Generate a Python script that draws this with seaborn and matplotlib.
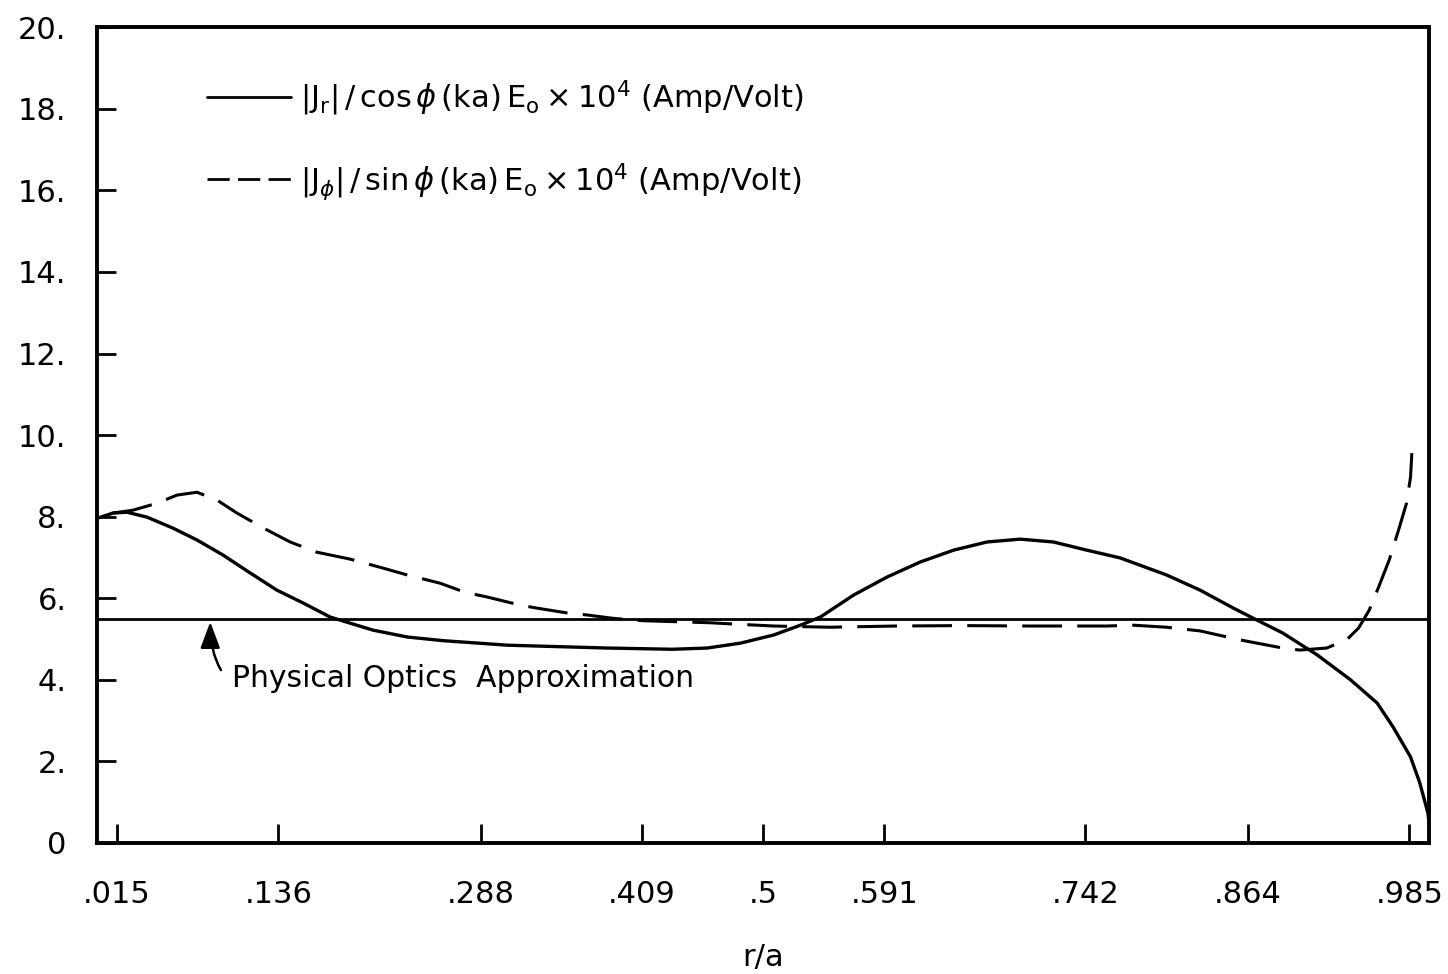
import numpy as np
import pandas as pd
import matplotlib
matplotlib.use("Agg")
import matplotlib.pyplot as plt
from matplotlib.lines import Line2D
import seaborn as sns

# Current components on the disk versus normalized radius r/a
r_jr = [0.0, 0.012, 0.0225, 0.0375, 0.057, 0.075, 0.0946, 0.115, 0.135, 0.155,
        0.175, 0.19, 0.207, 0.233, 0.26, 0.308, 0.383, 0.432, 0.458, 0.483,
        0.508, 0.528, 0.543, 0.568, 0.593, 0.618, 0.643, 0.668, 0.693, 0.718,
        0.743, 0.768, 0.803, 0.828, 0.853, 0.868, 0.89, 0.916, 0.941, 0.961,
        0.973, 0.986, 0.993, 0.999, 1.0]
jr_vals = [7.96, 8.09, 8.11, 7.99, 7.72, 7.43, 7.06, 6.62, 6.20, 5.88,
           5.54, 5.39, 5.22, 5.05, 4.96, 4.85, 4.78, 4.75, 4.78, 4.90,
           5.10, 5.34, 5.54, 6.08, 6.52, 6.89, 7.18, 7.38, 7.45, 7.38,
           7.18, 6.99, 6.57, 6.20, 5.76, 5.51, 5.15, 4.61, 4.00, 3.43,
           2.84, 2.11, 1.47, 0.74, 0.49]

r_jphi = [0.012, 0.027, 0.045, 0.06, 0.075, 0.09, 0.105, 0.125, 0.145, 0.165,
          0.19, 0.2125, 0.233, 0.2575, 0.276, 0.293, 0.318, 0.33, 0.353, 0.368,
          0.387, 0.41, 0.46, 0.477, 0.508, 0.55, 0.60, 0.65, 0.70, 0.758,
          0.778, 0.803, 0.828, 0.858, 0.89, 0.903, 0.923, 0.938, 0.947, 0.955,
          0.962, 0.97, 0.977, 0.983, 0.986, 0.987]
jphi_vals = [8.09, 8.16, 8.33, 8.53, 8.60, 8.41, 8.09, 7.72, 7.38, 7.13,
             6.96, 6.76, 6.57, 6.37, 6.15, 6.03, 5.83, 5.76, 5.64, 5.59,
             5.51, 5.45, 5.40, 5.37, 5.32, 5.29, 5.32, 5.33, 5.32, 5.32,
             5.34, 5.29, 5.20, 4.98, 4.78, 4.73, 4.78, 4.98, 5.27, 5.71,
             6.27, 6.94, 7.67, 8.33, 8.97, 9.56]

physical_optics = 5.5

x_ticks = [0.015, 0.136, 0.288, 0.409, 0.5, 0.591, 0.742, 0.864, 0.985]
x_ticklabels = [".015", ".136", ".288", ".409", ".5", ".591", ".742", ".864", ".985"]
y_ticks = [0, 2, 4, 6, 8, 10, 12, 14, 16, 18, 20]
y_ticklabels = ["0", "2.", "4.", "6.", "8.", "10.", "12.", "14.", "16.", "18.", "20."]

label_jr = r"$|\mathrm{J_r}|\,/\,\mathrm{cos}\,\phi\,(\mathrm{ka})\,\mathrm{E_o}\times10^4$ (Amp/Volt)"
label_jphi = r"$|\mathrm{J}_\phi|\,/\,\mathrm{sin}\,\phi\,(\mathrm{ka})\,\mathrm{E_o}\times10^4$ (Amp/Volt)"

sns.set_theme(style="ticks")
plt.rcParams["font.family"] = ["DejaVu Sans"]
plt.rcParams["mathtext.fontset"] = "dejavusans"
for key in ["text.color", "axes.labelcolor", "xtick.color", "ytick.color"]:
    plt.rcParams[key] = "black"

df_jr = pd.DataFrame({"r": r_jr, "J": jr_vals})
df_jphi = pd.DataFrame({"r": r_jphi, "J": jphi_vals})

fig = plt.figure(figsize=(14.48, 9.74), dpi=100)
ax = fig.add_axes([0.067, 0.1345, 0.920, 0.8375])

sns.lineplot(data=df_jr, x="r", y="J", ax=ax, color="black", lw=2.4,
             estimator=None, sort=False)
sns.lineplot(data=df_jphi, x="r", y="J", ax=ax, color="black", lw=2.2,
             estimator=None, sort=False)
ax.lines[-1].set_dashes([13, 5])
ax.axhline(physical_optics, color="black", lw=2.0)

ax.set_xlim(0, 1)
ax.set_ylim(0, 20)
ax.set_xticks(x_ticks)
ax.set_xticklabels(x_ticklabels)
ax.set_yticks(y_ticks)
ax.set_yticklabels(y_ticklabels)
ax.tick_params(axis="both", direction="in", length=14, width=2.0,
               labelsize=22, colors="black")
ax.tick_params(axis="y", pad=22)
ax.tick_params(axis="x", pad=27)
ax.set_xlabel("r/a", fontsize=22, labelpad=24)
ax.set_ylabel("")
for s in ax.spines.values():
    s.set_linewidth(2.8)
    s.set_color("black")

handles = [Line2D([], [], color="black", lw=2.0),
           Line2D([], [], color="black", lw=2.0, dashes=[8, 3])]
ax.legend(handles, [label_jr, label_jphi], loc="upper left",
          bbox_to_anchor=(0.0826, 0.937), frameon=False, fontsize=22,
          borderaxespad=0, borderpad=0, handlelength=2.75,
          handletextpad=0.3, labelspacing=1.4)

ax.text(0.101, 4.04, "Physical Optics  Approximation", fontsize=21.5,
        va="center", ha="left")
ax.annotate("", xy=(0.085, 5.42), xytext=(0.093, 4.24),
            arrowprops=dict(arrowstyle="-|>,head_length=0.8,head_width=0.3",
                            color="black", lw=1.8,
                            connectionstyle="angle3,angleA=120,angleB=90",
                            shrinkA=0, shrinkB=0, mutation_scale=20))

fig.savefig("out.png", dpi=100, facecolor="white")
